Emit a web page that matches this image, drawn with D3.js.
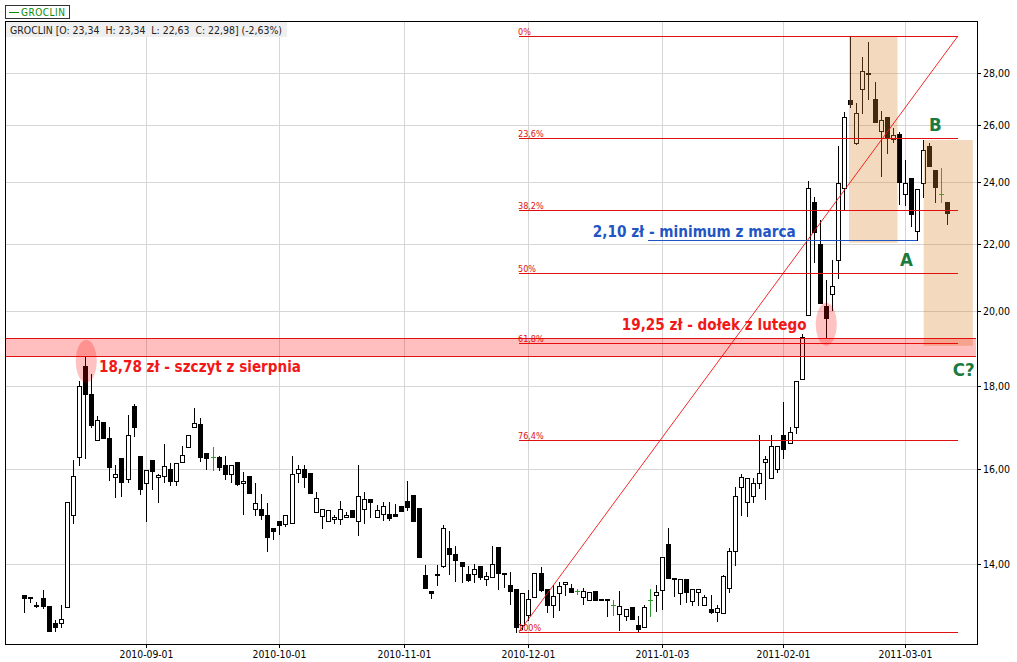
<!DOCTYPE html>
<html><head><meta charset="utf-8">
<script src="https://cdn.jsdelivr.net/npm/d3@7"></script>
<style>
html,body{margin:0;padding:0;background:#fff;}
svg{display:block;}
text{font-family:'DejaVu Sans Condensed','DejaVu Sans',sans-serif;font-stretch:condensed;}
</style></head><body>
<svg id="c" width="1017" height="662"></svg>
<script>
// ---- DATA ----
const open  = [13.40,13.36,13.21,13.35,13.20,12.89,12.89,13.17,15.00,16.29,18.51,17.80,16.68,17.10,16.72,15.82,16.25,15.79,17.50,16.30,
15.69,16.21,15.82,15.85,16.00,15.75,16.16,16.51,16.99,17.05,16.37,16.29,16.29,16.10,15.89,16.16,15.69,15.85,15.12,15.14,
15.00,14.74,14.88,14.81,14.83,15.91,16.00,15.91,15.06,14.99,14.88,14.91,14.91,14.95,15.11,14.88,15.14,15.35,14.95,15.02,
15.02,15.02,15.19,15.30,15.43,15.16,13.78,13.48,13.80,13.97,14.32,14.20,14.04,13.80,13.80,13.96,13.70,13.75,14.35,13.83,
13.59,13.51,12.84,13.03,13.36,13.83,13.51,13.22,13.43,13.61,13.53,13.47,13.36,13.31,13.48,13.33,13.32,13.21,13.04,13.00,
13.17,12.84,12.80,13.31,13.40,13.50,14.40,13.72,13.43,13.70,13.29,13.45,13.21,13.13,13.09,13.06,13.53,14.25,15.60,15.29,
15.40,15.69,16.17,15.80,16.02,16.80,16.61,16.99,18.17,19.90,23.33,21.99,20.15,20.49,21.50,23.79,26.95,25.37,27.36,28.01,
26.98,25.80,26.30,25.51,25.67,23.60,24.13,22.40,23.96,25.26,24.41,23.60,23.34];
const high  = [13.40,13.36,13.27,13.50,13.20,12.94,13.21,15.28,16.21,18.13,18.78,18.30,17.25,17.10,16.99,16.10,16.26,17.28,17.55,16.30,
15.99,16.21,15.90,16.58,16.14,16.14,16.54,16.79,17.44,17.20,16.37,16.51,16.30,16.30,16.10,16.16,15.95,15.85,15.69,15.45,
15.25,14.74,14.88,15.00,16.30,16.10,16.10,15.91,15.49,15.14,15.11,15.00,15.30,15.07,15.11,16.10,15.49,15.35,15.22,15.29,
15.27,15.24,15.19,15.74,15.43,15.16,13.98,13.48,13.98,14.80,14.67,14.36,14.04,13.96,14.00,13.96,13.85,14.36,14.35,13.83,
13.84,13.51,13.43,13.50,13.83,13.95,13.51,13.59,13.65,13.65,13.61,13.52,13.53,13.46,13.48,13.33,13.32,13.31,13.48,13.14,
13.17,13.00,13.21,13.51,13.59,14.14,14.72,13.72,13.70,13.70,13.51,13.51,13.40,13.40,13.21,13.78,14.31,15.61,15.90,15.80,
15.80,16.80,16.30,16.80,16.53,17.60,16.99,18.13,19.38,24.04,23.51,22.75,20.90,21.50,25.25,26.51,29.50,26.85,28.65,29.26,
27.65,26.55,26.30,25.89,25.77,24.76,24.13,23.76,25.47,25.35,24.41,24.49,23.34];
const low   = [13.09,13.27,13.17,13.15,12.74,12.74,12.80,13.17,14.84,16.10,16.25,16.99,16.68,16.72,15.76,15.39,15.42,15.72,16.77,15.45,
14.88,15.56,15.29,15.72,15.65,15.65,16.16,16.51,16.99,16.18,16.02,15.99,15.99,15.78,15.72,15.65,15.02,15.48,15.00,14.91,
14.25,14.50,14.60,14.78,14.83,15.72,15.60,15.48,15.06,14.74,14.88,14.83,14.81,14.95,14.95,14.58,14.83,14.95,14.95,14.90,
14.90,14.99,15.09,15.11,14.88,14.13,13.53,13.34,13.60,13.95,13.80,13.67,13.65,13.67,13.65,13.71,13.60,13.75,13.51,13.56,
13.24,12.72,12.78,12.94,13.36,13.48,13.09,12.99,13.12,13.40,13.46,13.42,13.24,13.31,13.31,13.32,13.00,13.03,12.76,12.94,
12.95,12.74,12.80,13.01,13.10,13.13,13.72,13.39,13.23,13.26,13.21,13.21,13.21,13.06,12.91,13.06,13.46,13.98,15.00,14.98,
15.29,15.58,15.34,15.80,15.95,16.27,16.61,16.85,18.17,19.90,21.45,20.23,19.25,20.04,20.95,23.10,26.67,25.33,26.47,26.98,
26.11,24.21,25.02,25.41,23.27,23.24,22.56,22.12,23.49,24.56,23.33,23.33,22.63];
const close = [13.35,13.35,13.20,13.20,12.74,12.80,12.95,15.27,15.85,18.00,17.79,17.03,17.16,16.72,16.06,15.90,15.72,16.79,16.99,15.57,
15.99,15.97,15.87,16.08,15.75,16.14,16.34,16.79,17.08,16.29,16.25,16.29,16.06,15.89,16.10,15.67,15.74,15.48,15.25,15.00,
14.55,14.67,14.80,15.00,15.90,16.00,15.82,15.48,15.36,15.14,15.11,14.95,15.14,15.00,14.95,15.40,15.35,15.28,15.11,15.20,
14.93,14.99,15.09,15.18,14.88,14.14,13.53,13.43,13.79,14.74,14.19,14.08,13.97,13.69,13.90,13.75,13.76,14.00,13.83,13.80,
13.48,12.80,13.43,13.32,13.83,13.50,13.22,13.38,13.57,13.65,13.46,13.47,13.48,13.46,13.31,13.32,13.31,13.21,13.19,13.14,
12.95,12.77,13.17,13.31,13.45,14.13,13.72,13.70,13.70,13.46,13.51,13.51,13.37,13.09,13.15,13.76,14.25,15.40,15.83,15.80,
15.69,15.91,16.23,16.53,16.53,16.47,16.86,18.13,19.29,23.79,22.36,20.23,19.80,20.74,23.98,26.32,26.80,26.47,28.09,27.99,
26.11,26.20,25.57,25.65,23.99,23.96,22.93,23.76,25.11,24.56,23.82,23.60,22.98];

const xTickIndex  = [20, 42, 62.5, 83, 105, 125, 145];
const xTickLabels = ["2010-09-01","2010-10-01","2010-11-01","2010-12-01","2011-01-03","2011-02-01","2011-03-01"];
const yTicks = [14,16,18,20,22,24,26,28];

const fibLabels = ["0%","23,6%","38,2%","50%","61,8%","76,4%","100%"];
const fibPrices = [29.50,25.54,23.09,21.11,19.13,16.68,12.72];
const fibStart = 81.46, fibEnd = 153.74;          // bar-index span of the retracement
const bandLow = 18.78, bandHigh = 19.25;           // support band
const marchMin = 22.12, marchFrom = 102.7, marchTo = 147;
const boxes = [{i0:135.8,i1:143.8,p0:22.03,p1:29.50},{i0:148.1,i1:156.2,p0:19.05,p1:25.47}];
const ellipses = [{i:10.2,p:18.64},{i:132.05,p:19.64}];
const notes = [
  {t:"18,78 zł - szczyt z sierpnia", i:12.3,  p:18.35, c:"#f01818", w:202, fs:15.5},
  {t:"19,25 zł - dołek z lutego",    i:98.37, p:19.48, c:"#f01818", w:185, fs:15},
  {t:"2,10 zł - minimum z marca",    i:93.6,  p:22.22, c:"#1f55c4", w:203, fs:15},
  {t:"B",  i:148.97, p:25.80, c:"#1b7a40", fs:18.5},
  {t:"A",  i:144.2,  p:21.33, c:"#1b7a40", fs:18.5},
  {t:"C?", i:152.87, p:18.26, c:"#1b7a40", fs:18.5}
];
const titleText = "GROCLIN [O: 23,34  H: 23,34  L: 22,63  C: 22,98] (-2,63%)";

// ---- SCALES ----
const L=5, R=977, T=21, B=644;
const x = d3.scaleLinear().domain([0,152]).range([24.3,947.4]);
const y = d3.scaleLog().domain([12.505,30.13]).range([B,T]);
const svg = d3.select("#c");
const fmt = v => d3.format(".2f")(v).replace(".",",");

// grid
svg.append("g").selectAll("line").data(yTicks).join("line")
  .attr("x1",L).attr("x2",R).attr("y1",d=>Math.round(y(d))+0.5).attr("y2",d=>Math.round(y(d))+0.5)
  .attr("stroke","#d6d6d6");
svg.append("g").selectAll("line").data(xTickIndex).join("line")
  .attr("x1",d=>Math.round(x(d))+0.5).attr("x2",d=>Math.round(x(d))+0.5).attr("y1",T).attr("y2",B)
  .attr("stroke","#d6d6d6");

// title bar
svg.append("rect").attr("x",6).attr("y",22).attr("width",281).attr("height",15).attr("fill","#efefef");
svg.append("text").attr("x",10).attr("y",33.5).attr("font-size",10).attr("fill","#222")
  .style("white-space","pre").attr("textLength",272).attr("lengthAdjust","spacingAndGlyphs").text(titleText);

// legend
svg.append("rect").attr("x",5.5).attr("y",5.5).attr("width",64).attr("height",13).attr("fill","#fff").attr("stroke","#333");
svg.append("line").attr("x1",9).attr("x2",19).attr("y1",12.5).attr("y2",12.5).attr("stroke","#0a8a0a");
svg.append("text").attr("x",21).attr("y",16).attr("font-size",10).attr("fill","#0a8a0a")
  .attr("textLength",44).attr("lengthAdjust","spacing").text("GROCLIN");

// candles
const idx = d3.range(open.length);
const cg = svg.append("g").attr("shape-rendering","crispEdges");
const cx = i => Math.round(x(i));
const isDoji = i => open[i]===close[i];
cg.selectAll("line.w").data(idx).join("line").attr("class","w")
  .attr("x1",i=>cx(i)+0.5).attr("x2",i=>cx(i)+0.5)
  .attr("y1",i=>Math.round(y(high[i]))).attr("y2",i=>Math.round(y(low[i]))+1)
  .attr("stroke",i=>isDoji(i)?"#2a9a2a":"#000");
cg.selectAll("line.d").data(idx.filter(isDoji)).join("line").attr("class","d")
  .attr("x1",i=>cx(i)-2).attr("x2",i=>cx(i)+3)
  .attr("y1",i=>Math.round(y(open[i]))+0.5).attr("y2",i=>Math.round(y(open[i]))+0.5)
  .attr("stroke","#2a9a2a");
cg.selectAll("rect.dn").data(idx.filter(i=>close[i]<open[i])).join("rect").attr("class","dn")
  .attr("x",i=>cx(i)-2).attr("width",5)
  .attr("y",i=>Math.round(y(open[i])))
  .attr("height",i=>Math.max(Math.round(y(close[i]))-Math.round(y(open[i]))+1,2))
  .attr("fill","#000");
cg.selectAll("rect.up").data(idx.filter(i=>close[i]>open[i])).join("rect").attr("class","up")
  .attr("x",i=>cx(i)-1.5).attr("width",4)
  .attr("y",i=>Math.round(y(close[i]))+0.5)
  .attr("height",i=>Math.max(Math.round(y(open[i]))-Math.round(y(close[i])),1))
  .attr("fill","#fff").attr("stroke","#000");

// tan boxes (translucent overlay)
svg.append("g").selectAll("rect").data(boxes).join("rect")
  .attr("x",d=>x(d.i0)).attr("width",d=>x(d.i1)-x(d.i0))
  .attr("y",d=>y(d.p1)).attr("height",d=>y(d.p0)-y(d.p1))
  .attr("fill","rgba(215,135,45,0.31)");

// fibonacci
const fg = svg.append("g");
fg.selectAll("line").data(fibPrices).join("line")
  .attr("x1",x(fibStart)).attr("x2",x(fibEnd))
  .attr("y1",d=>Math.round(y(d))+0.5).attr("y2",d=>Math.round(y(d))+0.5)
  .attr("stroke","#e01010").attr("shape-rendering","crispEdges");
fg.selectAll("text").data(fibPrices).join("text")
  .attr("x",x(fibStart)-1).attr("y",d=>Math.round(y(d))-1.5)
  .attr("font-size",9).attr("fill","#e01010").text((d,k)=>fibLabels[k]);
fg.append("line").attr("x1",x(fibStart)).attr("y1",y(fibPrices[6]))
  .attr("x2",x(fibEnd)).attr("y2",y(fibPrices[0])).attr("stroke","#f01010").attr("stroke-width",0.9);

// march minimum line
svg.append("line").attr("x1",x(marchFrom)).attr("x2",x(marchTo))
  .attr("y1",Math.round(y(marchMin))+0.5).attr("y2",Math.round(y(marchMin))+0.5)
  .attr("stroke","#1f55c4").attr("stroke-width",1.2);

// support band
svg.append("rect").attr("x",L).attr("width",R-1-L)
  .attr("y",y(bandHigh)).attr("height",y(bandLow)-y(bandHigh))
  .attr("fill","rgba(255,0,0,0.25)");
svg.append("g").selectAll("line").data([bandLow,bandHigh]).join("line")
  .attr("x1",L).attr("x2",R-1).attr("y1",d=>Math.round(y(d))+0.5).attr("y2",d=>Math.round(y(d))+0.5)
  .attr("stroke","#e01010").attr("shape-rendering","crispEdges");

// ellipses
svg.append("g").selectAll("ellipse").data(ellipses).join("ellipse")
  .attr("cx",d=>x(d.i)).attr("cy",d=>y(d.p)).attr("rx",10.5).attr("ry",21.5)
  .attr("fill","rgba(255,0,0,0.24)");

// notes
const ng = svg.append("g").selectAll("text").data(notes).join("text")
  .attr("x",d=>x(d.i)).attr("y",d=>y(d.p)).attr("fill",d=>d.c)
  .attr("font-weight","bold").attr("font-size",d=>d.fs).text(d=>d.t);
ng.filter(d=>d.w).attr("textLength",d=>d.w).attr("lengthAdjust","spacingAndGlyphs");

// frame
svg.append("rect").attr("x",L+0.5).attr("y",T+0.5).attr("width",R-L).attr("height",B-T)
  .attr("fill","none").attr("stroke","#000");

// right axis
const ya = svg.append("g");
ya.selectAll("line").data(yTicks).join("line")
  .attr("x1",R+0.5).attr("x2",R+4).attr("y1",d=>Math.round(y(d))+0.5).attr("y2",d=>Math.round(y(d))+0.5)
  .attr("stroke","#000");
ya.selectAll("text").data(yTicks).join("text")
  .attr("x",R+6).attr("y",d=>Math.round(y(d))+4).attr("font-size",10.5).attr("fill","#000").text(fmt);

// bottom axis
const xa = svg.append("g");
xa.selectAll("line").data(xTickIndex).join("line")
  .attr("x1",d=>Math.round(x(d))+0.5).attr("x2",d=>Math.round(x(d))+0.5).attr("y1",B).attr("y2",B+4)
  .attr("stroke","#000");
xa.selectAll("text").data(xTickIndex).join("text")
  .attr("x",d=>Math.round(x(d))+0.5).attr("y",658).attr("text-anchor","middle")
  .attr("font-size",10.3).attr("fill","#000").text((d,k)=>xTickLabels[k]);
</script>
</body></html>
